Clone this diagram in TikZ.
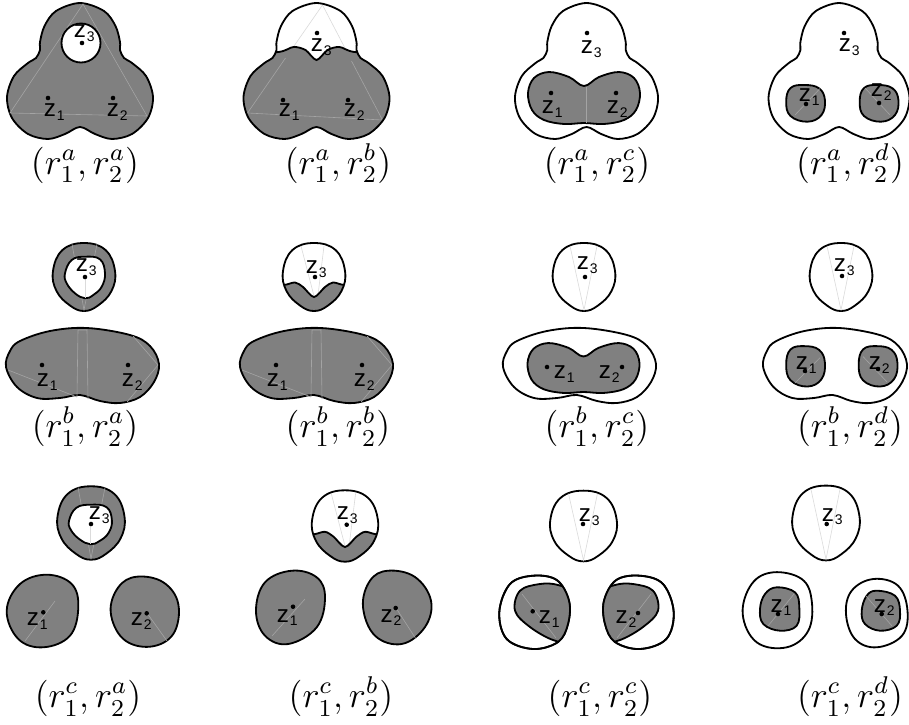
\documentclass[tikz,border=0pt]{standalone}
\usepackage{fontspec}
\newfontfamily\zfont{Liberation Sans}
\definecolor{rg}{RGB}{128,128,128}
\tikzset{
 outl/.style={draw=black, line width=0.6pt},
 grayfill/.style={fill=rg, draw=black, line width=0.6pt},
 whitefill/.style={fill=white, draw=black, line width=0.6pt},
 faint/.style={draw=rg!72!white, line width=0.2pt},
 faintw/.style={draw=black!14, line width=0.2pt},
 dotn/.style={circle, fill=black, inner sep=0pt, minimum size=1.5pt},
 zlab/.style={inner sep=0pt, anchor=base, font=\zfont\fontsize{8}{9}\selectfont},
 caplab/.style={inner sep=0pt, anchor=base, font=\fontsize{11.5}{13}\selectfont},
}
\newcommand\Zl[4]{\node[zlab] (#1) at (#2,#3+6.3) {z\rlap{\kern0.25pt\raisebox{-1.3pt}{\fontsize{4.6}{5}\selectfont #4}}};}
\newcommand\Dt[3]{\node[dotn] (#1) at (#2,#3) {};}
\newcommand\Tref[1]{\path[#1] plot[smooth cycle,tension=0.55] coordinates {(0,-95) (24,-87) (35.5,-72) (40,-56) (40,-48) (44,-40) (52,-35) (66,-22) (73,-1) (68,20) (52,36) (32,41) (15,36) (0,29) (-15,36) (-32,41) (-52,36) (-68,20) (-73,-1) (-66,-22) (-52,-35) (-44,-40) (-40,-48) (-40,-56) (-35.5,-72) (-24,-87)};}
\newcommand\Peanut[1]{\path[#1] plot[smooth cycle,tension=0.6] coordinates {(0,-12) (15,-21) (35,-26) (50,-20) (56,-5) (52,12) (40,22) (20,26) (0,25) (-20,26) (-40,22) (-52,12) (-56,-5) (-50,-20) (-35,-26) (-15,-21)};}
\newcommand\Blob[1]{\path[#1] plot[smooth cycle,tension=0.7] coordinates {(-15,-15.5) (-1,-18.5) (13.5,-15.2) (19.4,-3.5) (16,11.5) (2,18.2) (-15,12.5) (-19.3,-1.8)};}
\newcommand\Wide[1]{\path[#1] plot[smooth cycle,tension=0.6] coordinates {(-77,0) (-73,-16) (-63,-26) (-33,-36) (4,-39) (47,-32) (67,-21) (76,-3) (71,15) (57,30) (37,36) (17,34) (-3,28) (-23,31) (-46,31) (-66,20)};}
\newcommand\WideLines{\draw[faint] (-75,3) -- (-6,30) (-5,-37) -- (-6,29) (4,-37) -- (5,32) (-5,-37) -- (4,-37) (50,-31) -- (75,-2) -- (44,35);}
\newcommand\Egg[1]{\path[#1] plot[smooth cycle,tension=0.7] coordinates {(0,-34) (21.5,-27) (31,-6) (27.5,14) (14,28.5) (0,34) (-14,28.5) (-27.5,14) (-31,-6) (-21.5,-27)};}
\newcommand\EggV{\draw[faintw] (-14,-31) -- (0,33) -- (13,-31);}
\newcommand\Hole[1]{\path[#1] plot[smooth cycle,tension=0.7] coordinates {(-13.3,-17) (0,-20.3) (15,-17.7) (20,-3.7) (16.7,9.7) (8.3,18) (0,21.3) (-10,16.3) (-18.3,6.3) (-20,-3.7)};}
\newcommand\EggWave{%
 \Egg{fill=white}
 \begin{scope}
  \Egg{clip}
  \draw[faintw] (-13,-31) -- (0,19) (10,-31) -- (4,18);
  \fill[rg] (-60,9) -- plot[smooth] coordinates {(-50,9) (-30,8) (-19,5.5) (-11,10) (0,20) (11,10) (19,5.5) (30,8) (50,9)} -- (60,9) -- (60,60) -- (-60,60) -- cycle;
  \draw[line width=0.6pt] plot[smooth] coordinates {(-50,9) (-30,8) (-19,5.5) (-11,10) (0,20) (11,10) (19,5.5) (30,8) (50,9)};
 \end{scope}
 \Egg{outl}}
\newcommand\PairCC{%
 \path[whitefill] plot[smooth cycle,tension=0.6] coordinates {(533,601.7) (556.7,606) (569,626.7) (568,650) (558,668) (533,675) (506.7,665) (499.3,638) (510,610)};
 \begin{scope}
  \path[clip] plot[smooth cycle,tension=0.6] coordinates {(533,601.7) (556.7,606) (569,626.7) (568,650) (558,668) (533,675) (506.7,665) (499.3,638) (510,610)};
  \path[grayfill] plot[smooth cycle,tension=0.6] coordinates {(520,616.7) (540,610) (558,611) (575,620) (578,645) (570,667) (553,666) (530,653) (515,636.7)};
  \draw[faint] (522,620) -- (556,664);
 \end{scope}
 \path[outl] plot[smooth cycle,tension=0.6] coordinates {(533,601.7) (556.7,606) (569,626.7) (568,650) (558,668) (533,675) (506.7,665) (499.3,638) (510,610)};}
\begin{document}
\begin{tikzpicture}[x=0.33pt,y=-0.33pt]
\useasboundingbox (0,0) rectangle (909,724);
% ---------------- Row 1 ----------------
\begin{scope}[shift={(80,98)}]
 \Tref{grayfill}
 \draw[faint] (3,-94) -- (-70,15) -- (67,18) -- cycle;
 \path[whitefill] (1,-55) circle (19.5);
\end{scope}
\Dt{d113}{82}{43} \Zl{z113}{80}{31}{3}
\Dt{d111}{48}{98} \Zl{z111}{50}{110}{1}
\Dt{d112}{113}{98} \Zl{z112}{113}{110}{2}
\node[caplab] (c11) at (85,174) {$(r_1^a,r_2^a)$};

\begin{scope}[shift={(316.5,98)}]
 \Tref{fill=white}
 \begin{scope}
  \Tref{clip}
  \draw[faintw] (6,-93) -- (-69,15) (6,-93) -- (66,22);
  \fill[rg] (-90,-44) -- plot[smooth] coordinates {(-80,-44) (-38,-46) (-23,-51) (-11,-48) (0,-38) (11,-48) (23,-51) (38,-46) (80,-44)} -- (90,-44) -- (90,60) -- (-90,60) -- cycle;
  \draw[faint] (-31,-40) -- (-69,15) -- (66,22) -- (35,-37);
  \draw[line width=0.6pt] plot[smooth] coordinates {(-80,-44) (-38,-46) (-23,-51) (-11,-48) (0,-38) (11,-48) (23,-51) (38,-46) (80,-44)};
 \end{scope}
 \Tref{outl}
\end{scope}
\Dt{d123}{317}{33} \Zl{z123}{317}{45}{3}
\Dt{d121}{283}{100} \Zl{z121}{285}{110}{1}
\Dt{d122}{348}{100} \Zl{z122}{350}{110}{2}
\node[caplab] (c12) at (338,174) {$(r_1^a,r_2^b)$};

\begin{scope}[shift={(586.5,98)},xscale=0.98]
 \Tref{whitefill}
\end{scope}
\begin{scope}[shift={(584,98)}]
 \Peanut{grayfill}
 \draw[faint] (2,-11) -- (2,25);
\end{scope}
\Dt{d133}{587}{33} \Zl{z133}{587}{47}{3}
\Dt{d131}{551}{93} \Zl{z131}{548}{107}{1}
\Dt{d132}{616}{93} \Zl{z132}{613}{107}{2}
\node[caplab] (c13) at (597,174) {$(r_1^a,r_2^c)$};

\begin{scope}[shift={(839,98)},xscale=0.965]
 \Tref{whitefill}
\end{scope}
\begin{scope}[shift={(805.5,103.5)}] \Blob{grayfill} \draw[faint] (14.5,-15) -- (-10.5,11.5); \end{scope}
\begin{scope}[shift={(879,103.5)}] \Blob{grayfill} \draw[faint] (-14,-15.5) -- (11,11.5); \end{scope}
\Dt{d143}{844}{33} \Zl{z143}{845}{45}{3}
\Dt{d141}{806}{104} \Zl{z141}{805}{95}{1}
\Dt{d142}{879}{103} \Zl{z142}{877}{90}{2}
\node[caplab] (c14) at (850,174) {$(r_1^a,r_2^d)$};

% ---------------- Row 2 ----------------
\begin{scope}[shift={(84,277)}] \Egg{grayfill} \draw[faint] (-12,-33) -- (0,33) -- (13,-33); \end{scope}
\begin{scope}[shift={(85,277)}] \Hole{whitefill} \draw[faintw] (0,0) -- (0,21); \end{scope}
\begin{scope}[shift={(83,367)}] \Wide{grayfill} \WideLines \end{scope}
\Dt{d213}{85}{277} \Zl{z213}{82}{265}{3}
\Dt{d211}{42}{365} \Zl{z211}{43}{380}{1}
\Dt{d212}{128}{365} \Zl{z212}{128}{380}{2}
\node[caplab] (c21) at (85,437) {$(r_1^b,r_2^a)$};

\begin{scope}[shift={(314,277)}] \EggWave \end{scope}
\begin{scope}[shift={(317,367)}] \Wide{grayfill} \WideLines \end{scope}
\Dt{d223}{315}{277} \Zl{z223}{312}{267}{3}
\Dt{d221}{276}{365} \Zl{z221}{273}{380}{1}
\Dt{d222}{362}{365} \Zl{z222}{360}{380}{2}
\node[caplab] (c22) at (338,437) {$(r_1^b,r_2^b)$};

\begin{scope}[shift={(584,277)}] \Egg{whitefill} \EggV \end{scope}
\begin{scope}[shift={(580,367)}] \Wide{whitefill} \end{scope}
\begin{scope}[shift={(583.5,368)},yscale=0.96] \Peanut{grayfill} \end{scope}
\Dt{d233}{585}{277} \Zl{z233}{583}{263}{3}
\Dt{d231}{547}{367} \Zl{z231}{560}{372}{1}
\Dt{d232}{622}{367} \Zl{z232}{605}{372}{2}
\node[caplab] (c23) at (597,437) {$(r_1^b,r_2^c)$};

\begin{scope}[shift={(841,277)}] \Egg{whitefill} \EggV \end{scope}
\begin{scope}[shift={(835.5,367)},xscale=0.94] \Wide{whitefill} \end{scope}
\begin{scope}[shift={(805.5,366.5)},yscale=1.1] \Blob{grayfill} \draw[faint] (14.5,-8) -- (-10.5,15); \end{scope}
\begin{scope}[shift={(878,366.5)},yscale=1.1] \Blob{grayfill} \draw[faint] (-15,-9) -- (9,14); \end{scope}
\Dt{d243}{842}{276} \Zl{z243}{840}{265}{3}
\Dt{d241}{805}{371} \Zl{z241}{802}{363}{1}
\Dt{d242}{878}{369} \Zl{z242}{875}{363}{2}
\node[caplab] (c24) at (850,437) {$(r_1^b,r_2^d)$};

% ---------------- Row 3: top shapes ----------------
\begin{scope}[shift={(0,-17)}]
\begin{scope}[shift={(91,540)},xscale=1.08,yscale=1.08] \Egg{grayfill} \draw[faint] (-12,-33) -- (0,33) -- (13,-33); \end{scope}
\begin{scope}[shift={(90.5,541)},xscale=1.07,yscale=0.95] \Hole{whitefill} \draw[faintw] (0,0) -- (0,21); \end{scope}
\Dt{d313}{91}{541} \Zl{z313}{95}{530}{3}
\begin{scope}[shift={(345,543)},xscale=1.06,yscale=1.05] \EggWave \end{scope}
\Dt{d323}{346.7}{541.7} \Zl{z323}{343}{530}{3}
\begin{scope}[shift={(583.5,543)},xscale=1.07,yscale=1.04] \Egg{whitefill} \EggV \end{scope}
\Dt{d333}{583}{541} \Zl{z333}{585}{532}{3}
\begin{scope}[shift={(826,540)},xscale=1.08,yscale=1.1] \Egg{whitefill} \EggV \end{scope}
\Dt{d343}{826.7}{541} \Zl{z343}{828}{531.7}{3}
\end{scope}
% ---------------- Row 3: bottom shapes ----------------
\begin{scope}[shift={(0,-26)}]
\path[grayfill] plot[smooth cycle,tension=0.65] coordinates {(46.7,600.7) (71.7,610) (78.3,633.3) (70,661.7) (43.3,673.3) (18.3,665) (6.7,636.7) (20,610)};
\draw[faint] (55,627) -- (25,667);
\path[grayfill] plot[smooth cycle,tension=0.65] coordinates {(136.7,602.7) (163.3,608.3) (178.3,630) (173.3,660) (150,672.7) (123.3,665) (110.7,638.3) (118.3,613.3)};
\draw[faint] (147,639) -- (167,667);
\Dt{d311}{43.3}{638.3} \Zl{z311}{33}{645}{1}
\Dt{d312}{146.7}{639.3} \Zl{z312}{137}{645}{2}

\path[grayfill] plot[smooth cycle,tension=0.65] coordinates {(291.7,596.7) (316.7,603.3) (325,623.3) (316.7,653.3) (288.3,670) (265,661.7) (256,636.7) (265,608.3)};
\draw[faint] (305,625) -- (272,662);
\path[grayfill] plot[smooth cycle,tension=0.65] coordinates {(388,596.7) (415,603) (431,626.7) (425,653) (401.7,670) (375,661.7) (363,633) (370,606.7)};
\draw[faint] (396,634) -- (416,665);
\Dt{d321}{293}{632.7} \Zl{z321}{283}{641.7}{1}
\Dt{d322}{395.7}{634} \Zl{z322}{386.7}{641.7}{2}

\PairCC
\begin{scope}[shift={(1173,0)},xscale=-1] \PairCC \end{scope}
\Dt{d331}{532.7}{637.3} \Zl{z331}{545}{643}{1}
\Dt{d332}{638}{639} \Zl{z332}{621.7}{643}{2}

\path[whitefill] plot[smooth cycle,tension=0.65] coordinates {(773.3,598.3) (801.7,605) (811.7,626.7) (808.3,656.7) (786.7,673.3) (756.7,668.3) (742.7,640) (751.7,610)};
\path[grayfill] plot[smooth cycle,tension=0.65] coordinates {(776.7,613.3) (795,618.3) (799.3,633.3) (796.7,651.7) (780,656.7) (763.3,650) (760,635) (765,620)};
\draw[faint] (794,620) -- (768,652);
\path[whitefill] plot[smooth cycle,tension=0.65] coordinates {(873.3,605) (898,611.7) (907.5,636.7) (902,661.7) (876.7,673.3) (855,665) (846,640) (851.7,616.7)};
\path[grayfill] plot[smooth cycle,tension=0.65] coordinates {(876.7,616.7) (895,621.7) (900,636.7) (896.7,651.7) (880,656.7) (865,650) (861.7,636.7) (866.7,621.7)};
\draw[faint] (866,622) -- (892,652);
\Dt{d341}{778}{640} \Zl{z341}{776.7}{631.7}{1}
\Dt{d342}{881.7}{640} \Zl{z342}{880}{631.7}{2}
\end{scope}
\node[caplab] (c31) at (88,707) {$(r_1^c,r_2^a)$};
\node[caplab] (c32) at (341,707) {$(r_1^c,r_2^b)$};
\node[caplab] (c33) at (600,707) {$(r_1^c,r_2^c)$};
\node[caplab] (c34) at (850,707) {$(r_1^c,r_2^d)$};
\end{tikzpicture}
\end{document}
